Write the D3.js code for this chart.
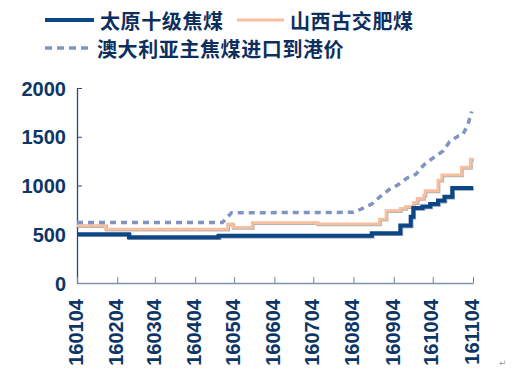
<!DOCTYPE html>
<html>
<head>
<meta charset="utf-8">
<script src="https://cdn.jsdelivr.net/npm/d3@7"></script>
<style>
body { margin: 0; background: #fff; }
svg { display: block; }
.legend-text { font-family: "Noto Sans CJK SC", sans-serif; font-weight: bold; font-size: 20px; fill: #0d2f5e; }
.tick-label { font-family: "Liberation Sans", Arial, sans-serif; font-weight: bold; font-size: 20px; fill: #0d3566; }
</style>
</head>
<body>
<div id="content"></div>
<script>
// 太原十级焦煤 (step changes)
const TAIYUAN_DATES = ['2016-01-04','2016-02-13','2016-04-22','2016-08-18','2016-09-09','2016-09-17','2016-09-19','2016-09-26','2016-10-02','2016-10-08','2016-10-13','2016-10-19','2016-11-04'];
const TAIYUAN_VALUES = [500, 470, 485, 510, 590, 680, 770, 785, 810, 845, 885, 975, 975];

// 山西古交肥煤 (step changes)
const GUJIAO_DATES = ['2016-01-04','2016-01-26','2016-04-29','2016-05-03','2016-05-18','2016-07-07','2016-08-24','2016-08-29','2016-09-09','2016-09-13','2016-09-19','2016-09-22','2016-09-27','2016-09-28','2016-10-08','2016-10-11','2016-10-26','2016-11-02','2016-11-04'];
const GUJIAO_VALUES = [588, 552, 605, 570, 620, 607, 655, 742, 766, 783, 824, 868, 902, 946, 1056, 1108, 1187, 1269, 1269];

// 澳大利亚主焦煤进口到港价
const AUS_DATES = ['2016-01-04','2016-04-25','2016-05-02','2016-08-04','2016-08-11','2016-08-18','2016-08-24','2016-08-31','2016-09-07','2016-09-14','2016-09-21','2016-09-27','2016-10-04','2016-10-12','2016-10-17','2016-10-24','2016-10-27','2016-10-31','2016-11-03'];
const AUS_VALUES = [620, 620, 720, 725, 765, 810, 880, 955, 1005, 1075, 1115, 1210, 1280, 1355, 1450, 1510, 1520, 1620, 1760];

const X_TICKS = ['2016-01-04','2016-02-04','2016-03-04','2016-04-04','2016-05-04','2016-06-04','2016-07-04','2016-08-04','2016-09-04','2016-10-04','2016-11-04'];
const Y_TICKS = [0, 500, 1000, 1500, 2000];

const SERIES_NAMES = ['太原十级焦煤', '山西古交肥煤', '澳大利亚主焦煤进口到港价'];

var parse = d3.timeParse('%Y-%m-%d');

function zip(dates, values) {
    return dates.map(function (d, i) { return {date: parse(d), value: values[i]}; });
}

var width = 530;
var height = 371;

var svg = d3.select('#content')
    .append('svg')
    .attr('width', width)
    .attr('height', height);

var xScale = d3.scaleTime()
    .domain([parse(X_TICKS[0]), parse(X_TICKS[X_TICKS.length - 1])])
    .range([77, 473]);

var yScale = d3.scaleLinear()
    .domain([0, 2000])
    .range([283, 88]);

// y axis
var yAxis = d3.axisLeft(yScale)
    .tickValues(Y_TICKS)
    .tickFormat(d3.format('d'))
    .tickSizeInner(-5)
    .tickSizeOuter(0)
    .tickPadding(11);

var gy = svg.append('g')
    .attr('transform', 'translate(77, 0)')
    .call(yAxis);
gy.select('.domain').attr('stroke', '#1d4c88').attr('stroke-width', 1.3);
gy.selectAll('.tick line').attr('stroke', '#1d4c88');
gy.selectAll('.tick text')
    .attr('class', 'tick-label')
    .attr('dy', '0.36em')
    .attr('font-family', null)
    .attr('font-size', null)
    .attr('fill', null);

// x axis
var xAxis = d3.axisBottom(xScale)
    .tickValues(X_TICKS.map(parse))
    .tickFormat(d3.timeFormat('%y%m%d'))
    .tickSizeInner(-6)
    .tickSizeOuter(0);

var gx = svg.append('g')
    .attr('transform', 'translate(0, 283)')
    .call(xAxis);
gx.select('.domain').attr('stroke', '#8092ac').attr('stroke-width', 1.3);
gx.selectAll('.tick line').attr('stroke', '#6f85a6');
gx.selectAll('.tick text')
    .attr('class', 'tick-label')
    .attr('font-family', null)
    .attr('font-size', null)
    .attr('fill', null)
    .attr('text-anchor', 'end')
    .attr('transform', 'translate(-2, 16) rotate(-90)')
    .attr('x', 0)
    .attr('y', 0)
    .attr('dy', '0.36em');

// lines
var stepLine = d3.line()
    .x(function (d) { return xScale(d.date); })
    .y(function (d) { return yScale(d.value); })
    .curve(d3.curveStepAfter);

var straightLine = d3.line()
    .x(function (d) { return xScale(d.date); })
    .y(function (d) { return yScale(d.value); });

var taiyuan = zip(TAIYUAN_DATES, TAIYUAN_VALUES);
var gujiao = zip(GUJIAO_DATES, GUJIAO_VALUES);
var aus = zip(AUS_DATES, AUS_VALUES);

// soft shadows, like the office chart
svg.append('path')
    .datum(gujiao)
    .attr('d', stepLine)
    .attr('transform', 'translate(0.8, 0.8)')
    .attr('fill', 'none')
    .attr('stroke', '#b9b3ad')
    .attr('stroke-width', 3.2);

svg.append('path')
    .datum(gujiao)
    .attr('d', stepLine)
    .attr('fill', 'none')
    .attr('stroke', '#f5bfa0')
    .attr('stroke-width', 2.8);

svg.append('path')
    .datum(aus)
    .attr('d', straightLine)
    .attr('fill', 'none')
    .attr('stroke', '#7f94bf')
    .attr('stroke-width', 3.5)
    .attr('stroke-dasharray', '6,5');

svg.append('path')
    .datum(taiyuan)
    .attr('d', stepLine)
    .attr('transform', 'translate(0.8, 0.8)')
    .attr('fill', 'none')
    .attr('stroke', '#8a9bb3')
    .attr('stroke-width', 4);

svg.append('path')
    .datum(taiyuan)
    .attr('d', stepLine)
    .attr('fill', 'none')
    .attr('stroke', '#0b4686')
    .attr('stroke-width', 4);

// legend
var legendItems = [
    {name: SERIES_NAMES[0], x: 45, y: 20, len: 49, color: '#0b4686', w: 4, dash: null},
    {name: SERIES_NAMES[1], x: 237, y: 20, len: 47, color: '#f5bfa0', w: 3, dash: null},
    {name: SERIES_NAMES[2], x: 45, y: 48, len: 46, color: '#7f94bf', w: 3.5, dash: '7,5'}
];

var legend = svg.append('g').attr('class', 'legend');

legend.selectAll('line')
    .data(legendItems)
    .enter()
    .append('line')
    .attr('x1', function (d) { return d.x; })
    .attr('x2', function (d) { return d.x + d.len; })
    .attr('y1', function (d) { return d.y; })
    .attr('y2', function (d) { return d.y; })
    .attr('stroke', function (d) { return d.color; })
    .attr('stroke-width', function (d) { return d.w; })
    .attr('stroke-dasharray', function (d) { return d.dash; });

legend.selectAll('text')
    .data(legendItems)
    .enter()
    .append('text')
    .attr('class', 'legend-text')
    .attr('x', function (d) { return d.x + d.len + 6; })
    .attr('y', function (d) { return d.y; })
    .attr('dominant-baseline', 'central')
    .attr('letter-spacing', '0.6')
    .text(function (d) { return d.name; });

// paragraph mark left by the word processor
svg.append('text')
    .attr('x', 499)
    .attr('y', 366)
    .attr('font-family', 'DejaVu Sans')
    .attr('font-size', 9)
    .attr('fill', '#999')
    .text('↵');
</script>
</body>
</html>
